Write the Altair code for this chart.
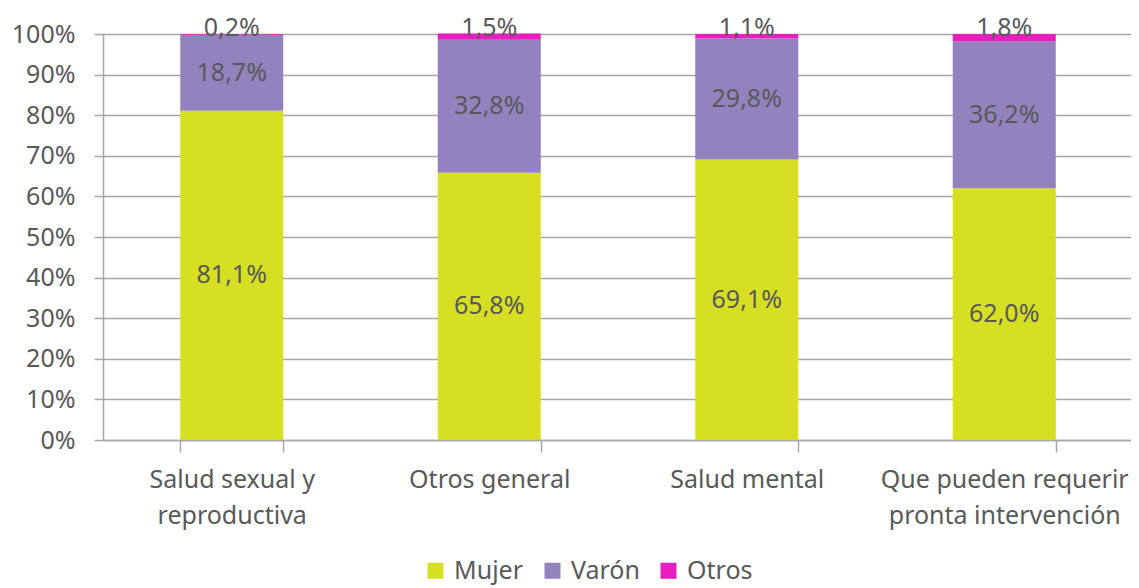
import altair as alt
import pandas as pd

categories = ["Salud sexual y reproductiva", "Otros general", "Salud mental",
              "Que pueden requerir pronta intervención"]
category_lines = [["Salud sexual y", "reproductiva"], ["Otros general"], ["Salud mental"],
                  ["Que pueden requerir", "pronta intervención"]]
series = ["Mujer", "Varón", "Otros"]
mujer = [81.1, 65.8, 69.1, 62.0]
varon = [18.7, 32.8, 29.8, 36.2]
otros = [0.2, 1.5, 1.1, 1.8]
colors = ["#D6DF22", "#9283BE", "#E91EBF"]
y_ticks = [0, 10, 20, 30, 40, 50, 60, 70, 80, 90, 100]

rows = []
for i, c in enumerate(categories):
    for j, (s, vals) in enumerate(zip(series, [mujer, varon, otros])):
        rows.append({"cat": c, "serie": s, "ord": j, "value": vals[i],
                     "label": f"{vals[i]:.1f}%".replace(".", ",")})
df = pd.DataFrame(rows)

label_expr = " : ".join(
    f"datum.value == '{c}' ? {lines!r}" for c, lines in zip(categories, category_lines)
) + " : datum.value"

TEXT = "#595959"
GRID = "#A6A6A6"
FS = 25

base = alt.Chart(df).transform_stack(
    stack="value", as_=["y0", "y1"], groupby=["cat"], sort=[alt.SortField("ord")]
).transform_calculate(mid="(datum.y0 + datum.y1) / 2")

xscale = alt.Scale(paddingInner=0.6, paddingOuter=0.3, range=[0, 1030])

xenc = alt.X("cat:N", sort=categories, scale=xscale,
             axis=alt.Axis(title=None, labelAngle=0, labelFontSize=FS, labelColor=TEXT,
                           labelExpr=label_expr, labelLineHeight=36, labelLimit=0,
                           tickBand="extent", tickSize=12, tickColor=GRID, tickWidth=1.5,
                           domainColor=GRID, domainWidth=1.5, labelPadding=15, grid=False))

bars = base.mark_bar().encode(
    x=xenc,
    y=alt.Y("y0:Q", scale=alt.Scale(domain=[0, 100], nice=False),
            axis=alt.Axis(title=None, values=y_ticks, labelExpr="datum.value + '%'",
                          labelFontSize=FS, labelColor=TEXT, labelPadding=19,
                          tickSize=9, tickColor=GRID, tickWidth=1.5,
                          domainColor=GRID, domainWidth=1.5,
                          grid=True, gridColor=GRID, gridWidth=1.5)),
    y2="y1:Q",
    color=alt.Color("serie:N", sort=series,
                    scale=alt.Scale(domain=series, range=colors),
                    legend=alt.Legend(title=None, orient="none", direction="horizontal",
                                      legendX=320, legendY=524, symbolType="square",
                                      symbolSize=256, symbolStrokeWidth=0, symbolOpacity=1,
                                      labelFontSize=FS, labelColor=TEXT, columnPadding=16,
                                      labelOffset=6)),
    order=alt.Order("ord:Q"),
)

inner = base.transform_filter("datum.serie != 'Otros'").mark_text(
    fontSize=FS, color=TEXT, baseline="middle"
).encode(x=alt.X("cat:N", sort=categories, scale=xscale), y="mid:Q", text="label:N")

top = base.transform_filter("datum.serie == 'Otros'").mark_text(
    fontSize=FS, color=TEXT, baseline="alphabetic", dy=2
).encode(x=alt.X("cat:N", sort=categories, scale=xscale), y="y1:Q", text="label:N")

chart = alt.layer(bars, inner, top).properties(
    width=1028, height=406,
    autosize=alt.AutoSizeParams(type="none"),
    padding={"left": 95, "top": 26, "right": 0, "bottom": 148},
    background="white",
).configure(font="Noto Sans").configure_view(stroke=None)

chart.save("out.html", embed_options={"renderer": "svg", "actions": False})
